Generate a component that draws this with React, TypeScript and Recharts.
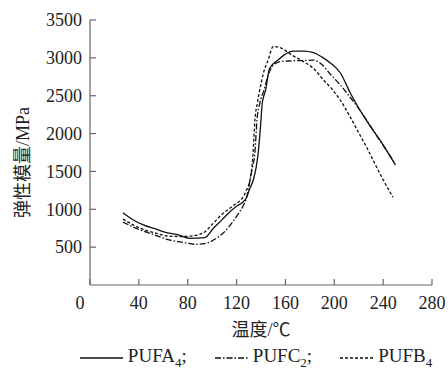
import React from 'react';
import { LineChart, Line, XAxis, YAxis, Legend } from 'recharts';

// 温度 / 弹性模量 readings for the three samples
const pufaT = [27, 35.5, 43.7, 54.6, 62.8, 71, 81.9, 94, 101, 108, 114.6, 120, 125.5, 128, 131, 133.7, 136, 137.7, 140, 141, 143.8, 147, 154, 160, 166, 175, 183, 190, 197, 205, 213, 226, 240, 250];
const pufaV = [955, 859, 793, 735, 691, 669, 617, 625, 749, 860, 968, 1040, 1100, 1150, 1280, 1387, 1550, 1744, 2180, 2400, 2576, 2860, 2972, 3050, 3090, 3090, 3070, 3010, 2930, 2800, 2540, 2180, 1850, 1585];

const pufcT = [27, 41, 55, 63, 75, 87, 95, 101, 109, 117, 121, 125, 128, 131, 133, 135, 136.7, 139, 142.5, 146, 150, 156, 165, 175, 183, 190, 197, 205, 213, 220, 228, 236, 243, 250];
const pufcV = [830, 727, 650, 603, 565, 537, 550, 594, 686, 836, 930, 1034, 1150, 1387, 1550, 1744, 2180, 2400, 2576, 2780, 2900, 2950, 2960, 2965, 2970, 2910, 2780, 2640, 2480, 2330, 2140, 1940, 1770, 1600];

const pufbT = [27, 41, 55, 63, 75, 82, 93, 100, 109, 115, 120, 124, 128, 131, 133.5, 135, 137, 139, 142, 146, 150, 157, 165, 175, 183, 191, 198, 205, 213, 220, 226.5, 233, 240, 248];
const pufbV = [870, 750, 680, 647, 640, 645, 690, 800, 947, 1020, 1080, 1130, 1250, 1390, 1740, 2180, 2400, 2576, 2800, 2980, 3150, 3126, 3040, 2950, 2860, 2710, 2590, 2440, 2220, 2010, 1820, 1610, 1390, 1160];

const xTicks = [0, 40, 80, 120, 160, 200, 240, 280];
const yTicks = [500, 1000, 1500, 2000, 2500, 3000, 3500];

const toData = (t: number[], v: number[]) => t.map((x, i) => ({ t: x, v: v[i] }));
const pufaData = toData(pufaT, pufaV);
const pufcData = toData(pufcT, pufcV);
const pufbData = toData(pufbT, pufbV);

const SERIF = "'Liberation Serif', 'DejaVu Serif', serif";
const MIXED = "'Liberation Serif', 'Noto Sans CJK SC', serif";
const AXIS = '#666';

const XTick = (props: any) => {
  const { x, y, payload } = props;
  // the shared origin "0" sits left of the corner
  const dx = payload.value === 0 ? -10 : 0;
  return (
    <text x={x + dx} y={y} dy="0.71em" textAnchor="middle" fontFamily={SERIF} fontSize={18} fill="#222">
      {payload.value}
    </text>
  );
};

const YTick = (props: any) => {
  const { x, y, payload } = props;
  return (
    <text x={x} y={y} dy="0.35em" textAnchor="end" fontFamily={SERIF} fontSize={18} fill="#222">
      {payload.value}
    </text>
  );
};

const YLabel = (props: any) => {
  const { viewBox } = props;
  const cx = viewBox.x + 23;
  const cy = viewBox.y + viewBox.height / 2 + 10;
  return (
    <text x={cx} y={cy} transform={`rotate(-90 ${cx} ${cy})`} textAnchor="middle" dominantBaseline="central" fontFamily={MIXED} fontSize={18} fill="#222">
      弹性模量/MPa
    </text>
  );
};

const legendItems = [
  { name: 'PUFA', sub: '4', tail: ';', dash: undefined as string | undefined, w: 43 },
  { name: 'PUFC', sub: '2', tail: ';', dash: '6 2 1.5 2', w: 33 },
  { name: 'PUFB', sub: '4', tail: '', dash: '3 2', w: 33 },
];

const LegendContent = () => (
  <div style={{ display: 'flex', justifyContent: 'center', alignItems: 'center', fontFamily: SERIF, fontSize: 19, color: '#222', paddingLeft: 80 }}>
    {legendItems.map((it, i) => (
      <span key={it.name} style={{ display: 'inline-flex', alignItems: 'center', marginLeft: i === 0 ? 0 : 28 }}>
        <svg width={it.w} height={10} style={{ marginRight: 5 }}>
          <line x1={0} y1={5} x2={it.w} y2={5} stroke="#111" strokeWidth={1.3} strokeDasharray={it.dash} />
        </svg>
        <span>
          {it.name}
          <sub style={{ fontSize: 13 }}>{it.sub}</sub>
          {it.tail}
        </span>
      </span>
    ))}
  </div>
);

export default function App() {
  return (
    <div style={{ position: 'absolute', left: 0, top: 0, background: '#fff' }}>
      <LineChart width={448} height={375} margin={{ top: 20, right: 16, left: 0, bottom: 0 }}>
        <XAxis
          type="number"
          dataKey="t"
          domain={[0, 280]}
          ticks={xTicks}
          allowDuplicatedCategory={false}
          height={60}
          tickSize={-6}
          tickMargin={17}
          tick={<XTick />}
          axisLine={{ stroke: AXIS, strokeWidth: 1.2 }}
          tickLine={{ stroke: AXIS, strokeWidth: 1.2 }}
          label={{ value: '温度/℃', position: 'insideBottom', offset: 9, fontFamily: MIXED, fontSize: 18, fill: '#222' }}
        />
        <YAxis
          type="number"
          domain={[0, 3500]}
          ticks={yTicks}
          width={90}
          tickSize={-6}
          tickMargin={14}
          tick={<YTick />}
          axisLine={{ stroke: AXIS, strokeWidth: 1.2 }}
          tickLine={{ stroke: AXIS, strokeWidth: 1.2 }}
          label={<YLabel />}
        />
        <Legend verticalAlign="bottom" height={30} content={<LegendContent />} />
        <Line data={pufaData} dataKey="v" name="PUFA4" type="monotone" stroke="#111" strokeWidth={1.3} dot={false} isAnimationActive={false} />
        <Line data={pufcData} dataKey="v" name="PUFC2" type="monotone" stroke="#111" strokeWidth={1.3} strokeDasharray="6 2 1.5 2" dot={false} isAnimationActive={false} />
        <Line data={pufbData} dataKey="v" name="PUFB4" type="monotone" stroke="#111" strokeWidth={1.3} strokeDasharray="3 2" dot={false} isAnimationActive={false} />
      </LineChart>
    </div>
  );
}
